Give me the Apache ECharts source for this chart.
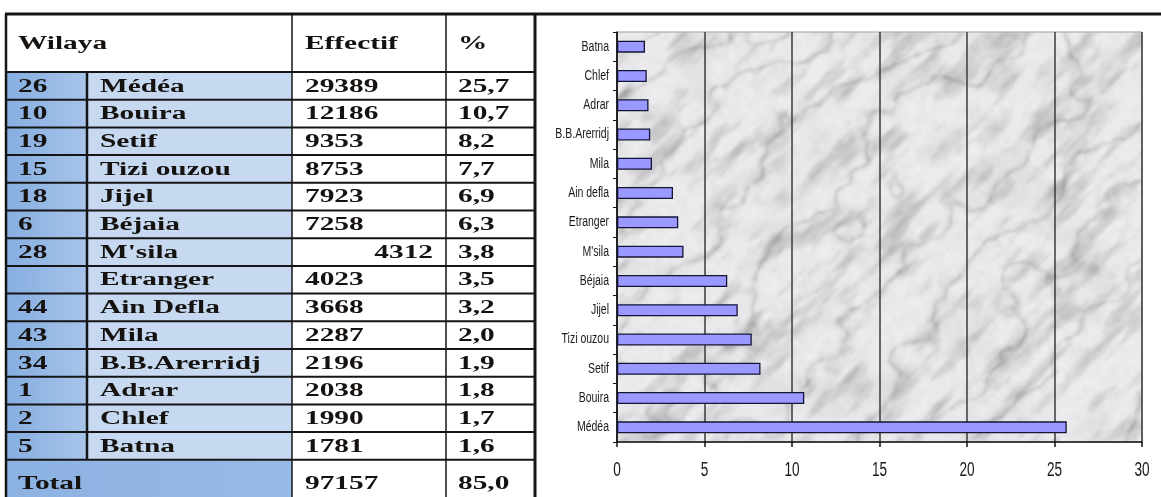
<!DOCTYPE html>
<html>
<head>
<meta charset="utf-8">
<script src="https://cdn.jsdelivr.net/npm/echarts@6/dist/echarts.min.js"></script>
<style>
  html, body { margin: 0; padding: 0; background: #ffffff; }
  #main { width: 1161px; height: 497px; }
</style>
</head>
<body>
<div id="main"></div>
<script>
// ---- data ----
const headers = ['Wilaya', 'Effectif', '%'];
const wilayaCodes = ['26', '10', '19', '15', '18', '6', '28', '', '44', '43', '34', '1', '2', '5'];
const wilayaNames = ['Médéa', 'Bouira', 'Setif', 'Tizi ouzou', 'Jijel', 'Béjaia', "M'sila", 'Etranger',
  'Ain Defla', 'Mila', 'B.B.Arerridj', 'Adrar', 'Chlef', 'Batna'];
const effectifs = [29389, 12186, 9353, 8753, 7923, 7258, 4312, 4023, 3668, 2287, 2196, 2038, 1990, 1781];
const percents = [25.7, 10.7, 8.2, 7.7, 6.9, 6.3, 3.8, 3.5, 3.2, 2.0, 1.9, 1.8, 1.7, 1.6];
const totalLabel = 'Total';
const totalEffectif = 97157;
const totalPercent = 85.0;
// bar chart categories (bottom to top)
const chartLabels = ['Médéa', 'Bouira', 'Setif', 'Tizi ouzou', 'Jijel', 'Béjaia', "M'sila", 'Etranger',
  'Ain defla', 'Mila', 'B.B.Arerridj', 'Adrar', 'Chlef', 'Batna'];
const xTickValues = [0, 5, 10, 15, 20, 25, 30];

const fmtPct = v => v.toFixed(1).replace('.', ',');

// ---- marble texture for the plot background ----
function makeMarble(w, h) {
  const raw = document.createElement('canvas');
  raw.width = w; raw.height = h;
  const ctx = raw.getContext('2d');
  const img = ctx.createImageData(w, h);
  function hash(x, y) {
    let n = Math.imul(x, 374761393) + Math.imul(y, 668265263);
    n = Math.imul(n ^ (n >>> 13), 1274126177);
    n ^= n >>> 16;
    return (n >>> 0) / 4294967295;
  }
  function smooth(t) { return t * t * (3 - 2 * t); }
  function vnoise(x, y) {
    const xi = Math.floor(x), yi = Math.floor(y);
    const xf = smooth(x - xi), yf = smooth(y - yi);
    const a = hash(xi, yi), b = hash(xi + 1, yi), cc = hash(xi, yi + 1), d = hash(xi + 1, yi + 1);
    return a + (b - a) * xf + (cc - a) * yf + (a - b - cc + d) * xf * yf;
  }
  function fbm(x, y, oct) {
    let s = 0, amp = 0.5, f = 1;
    for (let o = 0; o < oct; o++) { s += amp * vnoise(x * f, y * f); f *= 2; amp *= 0.5; }
    return s;
  }
  const k = Math.SQRT1_2;
  for (let y = 0; y < h; y++) {
    for (let x = 0; x < w; x++) {
      const across = (x + y) * k, along = (x - y) * k;
      const streak = fbm(across / 12 + 3, along / 40 + 9, 5);
      const cloud = fbm(x / 40 + 41, y / 40 + 13, 4);
      const warp = fbm(x / 80, y / 80, 4);
      const v = Math.abs(Math.sin(across * 0.045 + warp * 7));
      const vein = Math.pow(1 - v, 6);
      const grain = fbm(x / 6 + 17, y / 6 + 29, 3);
      let gv = 240
        - 120 * Math.max(0, streak - 0.48)
        - 40 * Math.max(0, cloud - 0.5)
        - 38 * vein * (0.4 + grain)
        - 14 * grain;
      gv = Math.max(130, Math.min(250, gv));
      const i = (y * w + x) * 4;
      img.data[i] = gv; img.data[i + 1] = gv; img.data[i + 2] = Math.min(255, gv + 2); img.data[i + 3] = 255;
    }
  }
  ctx.putImageData(img, 0, 0);
  const out = document.createElement('canvas');
  out.width = w; out.height = h;
  const octx = out.getContext('2d');
  octx.filter = 'blur(0.8px)';
  octx.drawImage(raw, 0, 0);
  return out;
}

// ---- table drawn as graphic elements ----
const T = { left: 6, c1: 87, c2: 292, c3: 446, right: 535, top: 14, headBottom: 72, rowH: 27.7, bottom: 497 };
const SERIF = '"Liberation Serif", "Times New Roman", serif';
const SX = 1.63;
const g = [];

function rect(x, y, w, h, fill) {
  g.push({ type: 'rect', shape: { x, y, width: w, height: h }, style: { fill }, z: 1, silent: true });
}
function line(x1, y1, x2, y2, w, color) {
  g.push({ type: 'line', shape: { x1, y1, x2, y2 }, style: { stroke: color || '#151515', lineWidth: w }, z: 3, silent: true });
}
function txt(str, x, y, align) {
  g.push({
    type: 'text', x, y, scaleX: SX, z: 4, silent: true,
    style: {
      text: str, fontSize: 18, fontWeight: 'bold', fontFamily: SERIF, fill: '#161210',
      textAlign: align || 'left', textVerticalAlign: 'middle'
    }
  });
}

const nRows = wilayaNames.length;
const rowsBottom = T.headBottom + nRows * T.rowH;
// cell fills
for (let i = 0; i < nRows; i++) {
  const y = T.headBottom + i * T.rowH;
  g.push({
    type: 'rect', shape: { x: T.left, y, width: T.c1 - T.left, height: T.rowH }, z: 1, silent: true,
    style: { fill: new echarts.graphic.LinearGradient(0, 0, 1, 0, [{ offset: 0, color: '#86aee0' }, { offset: 1, color: '#a7c4ea' }]) }
  });
  rect(T.c1, y, T.c2 - T.c1, T.rowH, '#c6d9f1');
}
g.push({
  type: 'rect', shape: { x: T.left, y: rowsBottom, width: T.c2 - T.left, height: T.bottom - rowsBottom }, z: 1, silent: true,
  style: { fill: new echarts.graphic.LinearGradient(0, 0, 1, 0, [{ offset: 0, color: '#8cb2e2' }, { offset: 1, color: '#97bae6' }]) }
});

// grid lines
line(T.left - 1, T.top, 1161, T.top, 3);
line(T.left, T.top, T.left, T.bottom, 2.5);
line(T.right, T.top, T.right, T.bottom, 3);
line(T.c2, T.top, T.c2, T.bottom, 1.5);
line(T.c3, T.top, T.c3, T.bottom, 1.5);
line(T.c1, T.headBottom, T.c1, rowsBottom, 2.5);
line(T.left, T.headBottom, T.right, T.headBottom, 2);
for (let i = 1; i <= nRows; i++) {
  const y = T.headBottom + i * T.rowH;
  line(T.left, y, T.right, y, 2);
}

// header
const headY = (T.top + T.headBottom) / 2 + 1;
txt(headers[0], 18, headY);
txt(headers[1], 305, headY);
txt(headers[2], 458, headY);

// body rows
for (let i = 0; i < nRows; i++) {
  const yc = T.headBottom + i * T.rowH + T.rowH / 2 + 1;
  if (wilayaCodes[i]) txt(wilayaCodes[i], 18, yc);
  txt(wilayaNames[i], 100, yc);
  if (wilayaNames[i] === "M'sila") txt(String(effectifs[i]), 433, yc, 'right');
  else txt(String(effectifs[i]), 305, yc);
  txt(fmtPct(percents[i]), 458, yc);
}
// total row
const totY = 484;
txt(totalLabel, 18, totY);
txt(String(totalEffectif), 305, totY);
txt(fmtPct(totalPercent), 458, totY);

// ---- chart ----
const G = { left: 617, right: 19, top: 32, bottom: 55 };
const W = 1161, H = 497;
const plotW = W - G.left - G.right, plotH = H - G.top - G.bottom;
g.push({
  type: 'image', x: G.left, y: G.top, z: -10, silent: true,
  style: { image: makeMarble(plotW, plotH), width: plotW, height: plotH }
});

const chart = echarts.init(document.getElementById('main'), null, { renderer: 'canvas' });
const SANS = '"Liberation Sans", Arial, sans-serif';

const option = {
  animation: false,
  backgroundColor: '#ffffff',
  grid: {
    left: G.left, right: G.right, top: G.top, bottom: G.bottom,
    show: true, backgroundColor: 'transparent',
    borderColor: '#9a9a9a', borderWidth: 1
  },
  xAxis: {
    type: 'value', min: 0, max: 30, interval: 5,
    axisLine: { show: true, lineStyle: { color: '#111', width: 1.5 } },
    axisTick: { show: true, length: 5, lineStyle: { color: '#111', width: 1.5 } },
    axisLabel: { show: false },
    splitLine: { show: true, lineStyle: { color: '#3a3a3a', width: 1.5 } }
  },
  yAxis: {
    type: 'category', data: chartLabels,
    axisLine: { show: true, lineStyle: { color: '#111', width: 1.5 } },
    axisTick: { show: true, length: 4, lineStyle: { color: '#111', width: 1 } },
    axisLabel: { show: false },
    splitLine: { show: false }
  },
  series: [{
    type: 'bar',
    data: percents,
    barWidth: 12,
    itemStyle: { color: '#9999ff', borderColor: '#141438', borderWidth: 1.3 },
    z: 3
  }],
  graphic: g
};
chart.setOption(option);

// condensed axis labels placed through the axes' own scales
const labels = [];
chartLabels.forEach(name => {
  const py = chart.convertToPixel({ yAxisIndex: 0 }, name);
  labels.push({
    type: 'text', x: G.left - 8, y: py, scaleX: 0.75, z: 5, silent: true,
    style: { text: name, fontSize: 14, fontFamily: SANS, fill: '#1a1a1a', textAlign: 'right', textVerticalAlign: 'middle' }
  });
});
xTickValues.forEach(v => {
  const px = chart.convertToPixel({ xAxisIndex: 0 }, v);
  labels.push({
    type: 'text', x: px, y: H - G.bottom + 28, scaleX: 0.68, z: 5, silent: true,
    style: { text: String(v), fontSize: 20, fontFamily: SANS, fill: '#1a1a1a', textAlign: 'center', textVerticalAlign: 'middle' }
  });
});
chart.setOption({ graphic: g.concat(labels) });
</script>
</body>
</html>
